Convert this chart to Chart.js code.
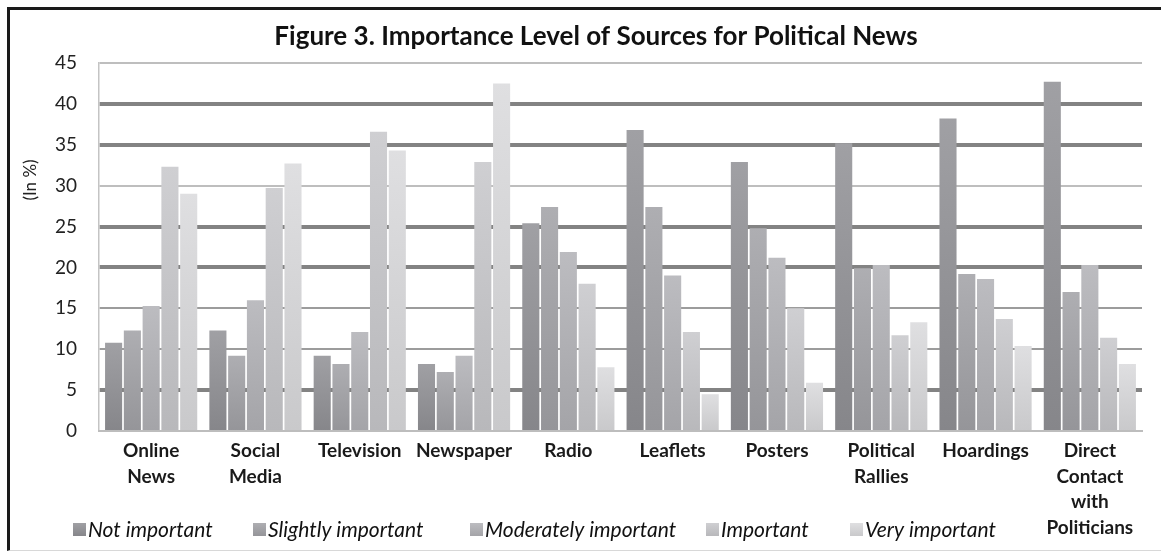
<!DOCTYPE html>
<html><head><meta charset="utf-8">
<script src="https://cdn.jsdelivr.net/npm/chart.js@4.4.0/dist/chart.umd.min.js"></script>
<style>
html,body{margin:0;padding:0;background:#fff;overflow:hidden;}
#wrap{position:relative;width:1161px;height:554px;overflow:hidden;}
#frame{position:absolute;left:7px;top:7px;width:1170px;height:540px;border-left:3px solid #1a1a1a;border-top:3px solid #1a1a1a;border-bottom:1px solid #d8d8d8;pointer-events:none;}
</style></head><body>
<div id="wrap"><canvas id="c" width="1161" height="554"></canvas><div id="frame"></div></div>
<script>
const chartTitle = 'Figure 3. Importance Level of Sources for Political News';
const yAxisTitle = '(In %)';
const categories = [
  ['Online','News'], ['Social','Media'], 'Television', 'Newspaper', 'Radio',
  'Leaflets', 'Posters', ['Political','Rallies'], 'Hoardings', ['Direct','Contact','with','Politicians']
];
const seriesNames = ['Not important','Slightly important','Moderately important','Important','Very important'];
const notImportant        = [10.8, 12.3, 9.2, 8.2, 25.4, 36.8, 32.9, 35.2, 38.2, 42.7];
const slightlyImportant   = [12.3, 9.2, 8.2, 7.2, 27.4, 27.4, 24.8, 19.9, 19.2, 17.0];
const moderatelyImportant = [15.3, 16.0, 12.1, 9.2, 21.9, 19.0, 21.2, 20.3, 18.6, 20.3];
const important           = [32.3, 29.7, 36.6, 32.9, 18.0, 12.1, 15.0, 11.7, 13.7, 11.4];
const veryImportant       = [29.0, 32.7, 34.3, 42.5, 7.8, 4.5, 5.9, 13.3, 10.4, 8.2];
const yTicks = [0,5,10,15,20,25,30,35,40,45];

const seriesValues = [notImportant, slightlyImportant, moderatelyImportant, important, veryImportant];
const shades = [
  ['#a0a0a4', '#86868a'],
  ['#aeaeb2', '#959599'],
  ['#bcbcc0', '#a4a4a8'],
  ['#cfcfd2', '#b8b8bb'],
  ['#dfdfe1', '#c9c9cb']
];
const FONT = 'Lato';

function barFill(i){
  return (ctx) => {
    const chart = ctx.chart;
    const y = chart.scales && chart.scales.y;
    if (!chart.chartArea || !y || ctx.raw === undefined) return shades[i][1];
    const top = y.getPixelForValue(ctx.raw);
    const bot = y.getPixelForValue(0);
    if (!isFinite(top) || !isFinite(bot) || bot - top < 1) return shades[i][1];
    const g = chart.ctx.createLinearGradient(0, top, 0, bot);
    g.addColorStop(0, shades[i][0]);
    g.addColorStop(1, shades[i][1]);
    return g;
  };
}

const thick = [5,20,25,35,40];
const midThin = [10,15];

const textPlugin = {
  id: 'figText',
  afterDraw(chart){
    const c = chart.ctx;
    c.save();
    c.font = 'bold 26px ' + FONT;
    c.fillStyle = '#111';
    c.textAlign = 'center';
    c.textBaseline = 'alphabetic';
    c.fillText(chartTitle, 596, 45);
    c.translate(31, 180);
    c.rotate(-Math.PI / 2);
    c.font = '17px ' + FONT;
    c.fillStyle = '#222';
    c.textBaseline = 'middle';
    c.fillText(yAxisTitle, 0, 0);
    c.restore();
  }
};

const legendX = [73, 253, 470, 706, 850];
const legendPlugin = {
  id: 'bottomLegend',
  afterDraw(chart){
    const c = chart.ctx;
    c.save();
    c.font = 'italic 21px ' + FONT;
    c.textBaseline = 'middle';
    c.textAlign = 'left';
    const y = 530;
    chart.data.datasets.forEach((ds, i) => {
      const x = legendX[i];
      const g = c.createLinearGradient(0, y-7, 0, y+6);
      g.addColorStop(0, shades[i][0]);
      g.addColorStop(1, shades[i][1]);
      c.fillStyle = g;
      c.fillRect(x, y-7, 13, 13);
      c.fillStyle = '#111';
      c.fillText(ds.label, x + 15, y);
    });
    c.restore();
  }
};

new Chart(document.getElementById('c'), {
  type: 'bar',
  data: {
    labels: categories,
    datasets: seriesNames.map((name, i) => ({
      label: name,
      data: seriesValues[i],
      backgroundColor: barFill(i),
      borderWidth: 0,
      categoryPercentage: 0.9,
      barPercentage: 0.91
    }))
  },
  options: {
    responsive: false,
    animation: false,
    devicePixelRatio: 1,
    layout: { padding: { top: 63, right: 19, left: 0, bottom: 0 } },
    plugins: { legend: { display: false }, tooltip: { enabled: false }, title: { display: false } },
    scales: {
      y: {
        min: 0, max: 45,
        afterBuildTicks: (s) => { s.ticks = yTicks.map(v => ({ value: v })); },
        afterFit: (s) => { s.width = 99; },
        ticks: { font: { family: FONT, size: 19 }, color: '#222', padding: 22 },
        grid: {
          drawTicks: false,
          color: (ctx) => {
            const v = ctx.tick && ctx.tick.value;
            if (v === 0) return 'rgba(0,0,0,0)';
            if (thick.includes(v)) return '#838383';
            if (midThin.includes(v)) return '#9c9c9c';
            return '#bebebe';
          },
          lineWidth: (ctx) => {
            const v = ctx.tick && ctx.tick.value;
            if (thick.includes(v)) return 4;
            return 2;
          }
        },
        border: { display: true, color: '#c4c4c4', width: 1.5 },
        title: { display: false }
      },
      x: {
        afterFit: (s) => { s.height = 123; },
        ticks: { font: { family: FONT, size: 19, weight: 'bold', lineHeight: 1.35 }, color: '#1a1a1a', padding: 7, maxRotation: 0, autoSkip: false },
        grid: { display: false, drawTicks: false },
        border: { display: true, color: '#bdbdbd', width: 2 }
      }
    }
  },
  plugins: [textPlugin, legendPlugin]
});
</script>
</body></html>
